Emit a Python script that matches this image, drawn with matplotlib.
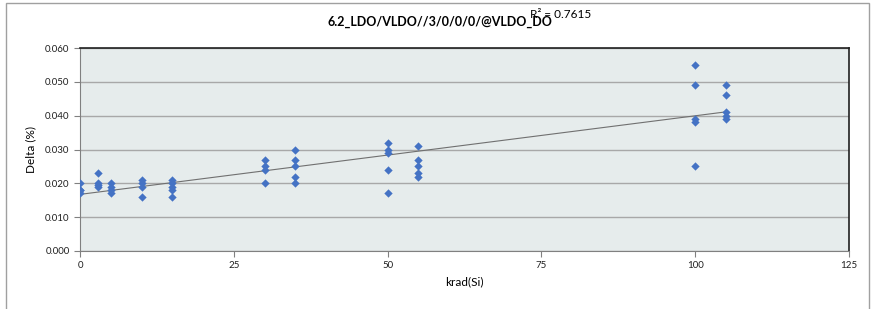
import matplotlib
matplotlib.use("Agg")
import matplotlib.pyplot as plt
import numpy as np
from matplotlib.patches import Rectangle

plt.rcParams['font.family'] = ['Lato', 'DejaVu Sans']

title = "6.2_LDO/VLDO//3/0/0/0/@VLDO_DO"
r2_text = "R² = 0.7615"
x_label = "krad(Si)"
y_label = "Delta (%)"

krad = [0, 0, 0, 0,
        3, 3, 3, 3,
        5, 5, 5, 5,
        10, 10, 10, 10,
        15, 15, 15, 15, 15,
        30, 30, 30, 30,
        35, 35, 35, 35, 35,
        50, 50, 50, 50, 50,
        55, 55, 55, 55, 55,
        100, 100, 100, 100, 100,
        105, 105, 105, 105, 105]
delta = [0.020, 0.018, 0.018, 0.017,
         0.023, 0.020, 0.0195, 0.019,
         0.020, 0.019, 0.018, 0.017,
         0.021, 0.020, 0.019, 0.016,
         0.021, 0.020, 0.019, 0.018, 0.016,
         0.027, 0.025, 0.024, 0.020,
         0.030, 0.027, 0.025, 0.022, 0.020,
         0.032, 0.030, 0.029, 0.024, 0.017,
         0.031, 0.027, 0.025, 0.023, 0.022,
         0.055, 0.049, 0.039, 0.038, 0.025,
         0.049, 0.046, 0.041, 0.040, 0.039]
x_ticks = [0, 25, 50, 75, 100, 125]
y_ticks = [0.000, 0.010, 0.020, 0.030, 0.040, 0.050, 0.060]

fig = plt.figure(figsize=(8.76, 3.09), dpi=100)
fig.patches.append(Rectangle((6/876, -0.01), (869-6)/876, 1 - 3/309 + 0.01,
                             transform=fig.transFigure, fill=False,
                             edgecolor='#A0A0A0', linewidth=1.0))
ax = fig.add_axes([80/876, 1-251/309, (849-80)/876, (251-48)/309])
ax.set_facecolor('#E6ECEC')
ax.set_xlim(0, 125)
ax.set_ylim(0, 0.060)
ax.set_xticks(x_ticks)
ax.set_xticklabels([str(t) for t in x_ticks])
ax.set_yticks(y_ticks)
ax.set_yticklabels([f"{t:.3f}" for t in y_ticks])
ax.yaxis.grid(True, color='#A8A8A8', linewidth=1.0)
ax.set_axisbelow(True)
for s in ['top', 'right']:
    ax.spines[s].set_color('#202020')
    ax.spines[s].set_linewidth(1.2)
ax.spines['left'].set_color('#808080')
ax.spines['bottom'].set_color('#808080')
ax.tick_params(axis='both', labelsize=7, colors='#808080', labelcolor='#202020',
               length=4, width=0.8)

ax.scatter(krad, delta, marker='D', s=18, color='#4472C4', zorder=3, linewidths=0)

coef = np.polyfit(krad, delta, 1)
xs = np.array([0, max(krad)])
ax.plot(xs, np.polyval(coef, xs), color='#707070', linewidth=0.8, zorder=2)

ax.set_xlabel(x_label, fontsize=8.5, labelpad=4)
ax.set_ylabel(y_label, fontsize=8.5, labelpad=6)
fig.text(440/876, 1-22/309, title, ha='center', va='center', fontsize=9, fontweight='bold')
fig.text(530/876, 1-14/309, r2_text, ha='left', va='center', fontsize=8.5)

fig.savefig("out.png", dpi=100)
